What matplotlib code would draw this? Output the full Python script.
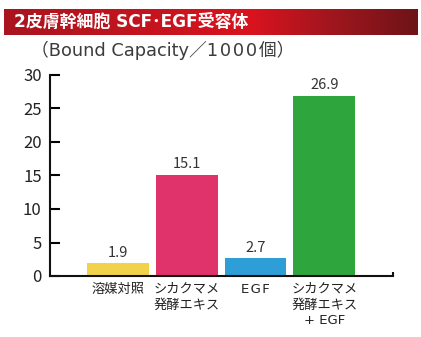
import matplotlib
matplotlib.use("Agg")
import matplotlib.pyplot as plt
import numpy as np
from matplotlib.colors import LinearSegmentedColormap

plt.rcParams["font.family"] = ["Noto Sans CJK JP", "DejaVu Sans"]
WIDE = ["DejaVu Sans", "Noto Sans CJK JP"]
HS = "\u200a"  # hair space, the original letters are loosely spaced

TITLE = "2皮膚幹細胞 SCF･EGF受容体"
SUBTITLE = "（Bound Capacity／" + HS.join("1000") + HS + "個）"

categories = ["溶媒対照", "シカクマメ\n発酵エキス", HS.join("EGF"), "シカクマメ\n発酵エキス\n+ EGF"]
values = [1.9, 15.1, 2.7, 26.9]
bar_colors = ["#F2D14B", "#E0326B", "#2E9FD6", "#2EA53D"]
yticks = [0, 5, 10, 15, 20, 25, 30]

W, H = 421, 337
fig = plt.figure(figsize=(W / 100, H / 100), dpi=100)

# red gradient banner
banner = fig.add_axes([4 / W, 1 - 35 / H, 413 / W, 26 / H])
cmap = LinearSegmentedColormap.from_list(
    "banner", [(0.0, "#A9151F"), (0.6, "#D9131E"), (0.78, "#A3161E"), (1.0, "#6E1418")]
)
banner.imshow(np.linspace(0, 1, 256)[None, :], aspect="auto", cmap=cmap, extent=[0, 1, 0, 1])
banner.set_axis_off()
banner.text(10 / 413, 0.5, TITLE, color="white", fontsize=12.2, fontweight="bold",
            family=WIDE, ha="left", va="center", transform=banner.transAxes)

fig.text(31 / W, 1 - 50 / H, SUBTITLE, color="#3c3c3c", fontsize=12.8,
         family=WIDE, ha="left", va="center")

ax = fig.add_axes([50 / W, 1 - 276 / H, 343 / W, 201 / H])
x = np.arange(len(values))
ax.bar(x, values, width=0.9, color=bar_colors)
for xi, v in zip(x, values):
    ax.text(xi, v + 0.5, f"{v:.1f}", ha="center", va="bottom", fontsize=10.5, color="#333333")

ax.set_xlim(-0.99, 4.0)
ax.set_ylim(0, 30)
ax.set_yticks(yticks)
ax.tick_params(axis="y", direction="in", length=7, width=1.5, pad=6, labelsize=12,
               labelcolor="#222222")
ax.set_xticks(x)
ax.set_xticklabels(categories, fontsize=9.5, linespacing=1.25, color="#222222", family=WIDE)
ax.tick_params(axis="x", length=0, pad=5)
for side in ["top", "right"]:
    ax.spines[side].set_visible(False)
for side in ["left", "bottom"]:
    ax.spines[side].set_linewidth(1.5)
    ax.spines[side].set_color("#111111")
ax.plot([1, 1], [0, 0.02], transform=ax.transAxes, color="#111111", lw=1.5,
        clip_on=False, solid_capstyle="butt")

fig.savefig("out.png", dpi=100)
